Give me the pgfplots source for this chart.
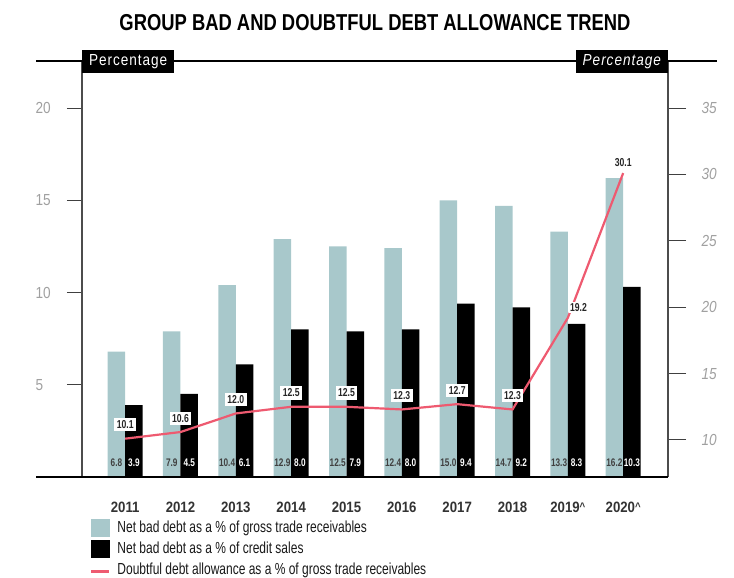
\documentclass[border=0pt]{standalone}
\usepackage{pgfplots}
\pgfplotsset{compat=1.18}
\usepackage{pgfplotstable}
\usepackage{fontspec}
\setmainfont{Liberation Sans}[FakeStretch=0.85]
\newfontfamily\condfont{Liberation Sans}[FakeStretch=0.75]
\newfontfamily\yearfont{Liberation Sans}[FakeStretch=0.88]
\newfontfamily\titlefont{Liberation Sans}[FakeStretch=0.8]
\newfontfamily\boxfont{Liberation Sans}[FakeStretch=0.85, LetterSpace=6]
\definecolor{cy}{HTML}{A8C8CB}
\definecolor{pk}{HTML}{EE5A70}
\definecolor{tk}{HTML}{A0A0A0}
\pgfplotstableread{
x cy bk ln
0 6.8 3.9 10.1
1 7.9 4.5 10.6
2 10.4 6.1 12.0
3 12.9 8.0 12.5
4 12.5 7.9 12.5
5 12.4 8.0 12.3
6 15.0 9.4 12.7
7 14.7 9.2 12.3
8 13.3 8.3 19.2
9 16.2 10.3 30.1
}\data
\newcommand{\caret}{\raisebox{0.15ex}{\fontsize{11}{11}\selectfont\textasciicircum}}
\begin{document}
\begin{tikzpicture}[x=1pt,y=1pt]
\useasboundingbox (0,0) rectangle (734,578);
% left axis with bars
\begin{axis}[
  at={(82pt,101pt)}, anchor=south west, scale only axis,
  width=586pt, height=416pt,
  xmin=-0.78, xmax=9.81, ymin=0, ymax=22.55,
  axis x line*=bottom, axis y line*=left,
  x axis line style={-, line width=2.2pt},
  y axis line style={-, draw=black!70, line width=1.2pt},
  tick align=outside, major tick length=15pt,
  xtick=data, xtick style={draw=none},
  xticklabels={2011,2012,2013,2014,2015,2016,2017,2018,{2019\caret},{2020\caret}},
  xticklabel style={font=\yearfont\bfseries\fontsize{15}{15}\selectfont, text=black!80, yshift=-6pt},
  ytick={5,10,15,20},
  ytick style={draw=black!75, line width=1pt},
  yticklabel style={anchor=west, xshift=-35pt, text=tk, font=\fontsize{16}{16}\selectfont},
  /pgf/number format/assume math mode=true,
  clip=false,
]
\addplot[ybar, bar width=17.5pt, bar shift=-8.75pt, fill=cy, draw=none] table[x=x,y=cy]{\data};
\addplot[ybar, bar width=17.5pt, bar shift=8.75pt, fill=black, draw=none] table[x=x,y=bk]{\data};
\addplot[only marks, mark=none, nodes near coords, point meta=explicit symbolic,
  every node near coord/.style={anchor=center, xshift=-8.75pt, text=black!75, inner sep=0pt, font=\condfont\bfseries\fontsize{11}{11}\selectfont}]
  table[x=x, y expr=0.76, meta=cy]{\data};
\addplot[only marks, mark=none, nodes near coords, point meta=explicit symbolic,
  every node near coord/.style={anchor=center, xshift=8.75pt, text=white, inner sep=0pt, font=\condfont\bfseries\fontsize{11}{11}\selectfont}]
  table[x=x, y expr=0.76, meta=bk]{\data};
\end{axis}
% right axis with line
\begin{axis}[
  at={(82pt,101pt)}, anchor=south west, scale only axis,
  width=586pt, height=416pt,
  xmin=-0.78, xmax=9.81, ymin=7.214, ymax=38.54,
  axis x line=none, axis y line*=right,
  y axis line style={-, draw=black!70, line width=1.2pt},
  xtick=\empty,
  tick align=outside, major tick length=18pt,
  ytick={10,15,20,25,30,35},
  ytick style={draw=black!75, line width=1pt},
  yticklabel style={anchor=west, xshift=12pt, text=tk, font=\itshape\fontsize{16}{16}\selectfont},
  /pgf/number format/assume math mode=true,
  clip=false,
  legend style={at={(0.0137,-0.1010)}, anchor=north west, draw=none, fill=none,
    inner sep=0pt, row sep=3.5pt, font=\condfont\fontsize{16}{16}\selectfont,
    nodes={inner sep=1pt, anchor=west, text=black!90},
    /tikz/every even column/.append style={column sep=0pt}},
  legend cell align=left,
]
\addlegendimage{legend image code/.code={\fill[cy] (0pt,-8.5pt) rectangle (18pt,8.5pt); \path[draw=none,fill=none] (0pt,0pt) -- (25pt,0pt);}}
\addlegendentry{Net bad debt as a \% of gross trade receivables}
\addlegendimage{legend image code/.code={\fill[black] (0pt,-8.5pt) rectangle (18pt,8.5pt); \path[draw=none,fill=none] (0pt,0pt) -- (25pt,0pt);}}
\addlegendentry{Net bad debt as a \% of credit sales}
\addplot[pk, line width=2.2pt, mark=none,
  legend image code/.code={\path[draw=none,fill=none] (0pt,-8.5pt) rectangle (25pt,8.5pt); \draw[pk, line width=2.4pt] (0pt,-2pt) -- (18pt,-2pt);}] table[x=x,y=ln]{\data};
\addlegendentry{Doubtful debt allowance as a \% of gross trade receivables}
\addplot[only marks, mark=none, forget plot, skip coords between index={8}{10}, nodes near coords, point meta=explicit symbolic,
  every node near coord/.style={anchor=south, yshift=7pt, fill=white, inner sep=2.5pt, text=black!85, font=\condfont\bfseries\fontsize{11.5}{11.5}\selectfont}]
  table[x=x,y=ln,meta=ln]{\data};
\addplot[only marks, mark=none, forget plot, skip coords between index={0}{8}, skip coords between index={9}{10}, nodes near coords, point meta=explicit symbolic,
  every node near coord/.style={anchor=south west, xshift=1pt, yshift=5pt, fill=white, inner sep=1pt, text=black!85, font=\condfont\bfseries\fontsize{11.5}{11.5}\selectfont}]
  table[x=x,y=ln,meta=ln]{\data};
\addplot[only marks, mark=none, forget plot, skip coords between index={0}{9}, nodes near coords, point meta=explicit symbolic,
  every node near coord/.style={anchor=south, yshift=5pt, inner sep=1pt, text=black!85, font=\condfont\bfseries\fontsize{11.5}{11.5}\selectfont}]
  table[x=x,y=ln,meta=ln]{\data};
\end{axis}
% frame elements
\draw[line width=2pt] (36,517) -- (717,517);
\draw[line width=2.5pt] (36,101) -- (668,101);
\node[fill=black, text=white, minimum width=92pt, minimum height=23pt, inner sep=0pt, anchor=south west,
  font=\boxfont\fontsize{16}{16}\selectfont] at (82,505) {Percentage};
\node[fill=black, text=white, minimum width=92pt, minimum height=23pt, inner sep=0pt, anchor=south east,
  font=\boxfont\itshape\fontsize{16}{16}\selectfont] at (668,505) {Percentage};
\node[font=\titlefont\bfseries\fontsize{23}{23}\selectfont] at (375,555) {GROUP BAD AND DOUBTFUL DEBT ALLOWANCE TREND};
\end{tikzpicture}
\end{document}
